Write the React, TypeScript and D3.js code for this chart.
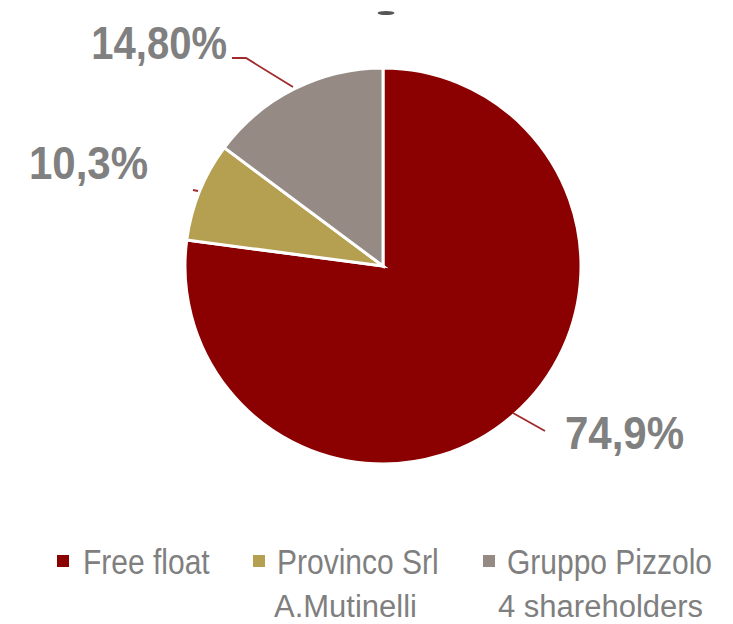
import React from "react";
import * as d3 from "d3";

const categories = ["Free float", "Provinco Srl", "Gruppo Pizzolo"];
const subLabels = ["", "A.Mutinelli", "4 shareholders"];
const sliceValues = [77.1, 8.1, 14.8];
const labelTexts = ["74,9%", "10,3%", "14,80%"];
const colors = ["#8B0000", "#B5A052", "#958A84"];

const W = 733;
const H = 624;
const cx = 383;
const cy = 266;
const R = 198;

export default function App() {
  const pie = d3.pie<number>().sort(null).value((d) => d);
  const arcs = pie(sliceValues);
  const arcGen = d3.arc<d3.PieArcDatum<number>>().innerRadius(0).outerRadius(R);

  const labelPos = [
    { x: 565, y: 449, anchor: "start", size: 42, line: [[513, 413], [545, 431]] },
    { x: 148, y: 179, anchor: "end", size: 42, line: [[193, 190], [198, 191]] },
    { x: 227, y: 59, anchor: "end", size: 40, line: [[232, 58], [246, 58], [293, 87]] },
  ];

  const legendX = [57, 253, 483];
  const legendTextX = [83, 277, 507];
  const subX = [0, 274, 498];

  return (
    <svg
      width={W}
      height={H}
      style={{ position: "absolute", left: 0, top: 0, background: "#fff" }}
      fontFamily="'Liberation Sans', Arial, sans-serif"
    >
      <ellipse cx={386} cy={13} rx={8.5} ry={2} fill="#555" />
      <g transform={`translate(${cx},${cy})`}>
        {arcs.map((a, i) => (
          <path key={i} d={arcGen(a) || ""} fill={colors[i]} stroke="#fff" strokeWidth={3} strokeLinejoin="miter" />
        ))}
      </g>
      {labelPos.map((p, i) => (
        <g key={i}>
          <polyline
            points={p.line.map((q) => q.join(",")).join(" ")}
            fill="none"
            stroke="#A02A2C"
            strokeWidth={1.8}
          />
          <text
            transform={`translate(${p.x},${p.y}) scale(1,${(46 / p.size).toFixed(3)})`}
            textAnchor={p.anchor}
            fontSize={p.size}
            fontWeight="bold"
            fill="#808080"
          >
            {labelTexts[i]}
          </text>
        </g>
      ))}
      {categories.map((c, i) => (
        <g key={c}>
          <rect x={legendX[i]} y={555} width={12} height={12} fill={colors[i]} />
          <text
            transform={`translate(${legendTextX[i]},574) scale(1,1.16)`}
            fontSize={30}
            fill="#7F7F7F"
          >
            {c}
          </text>
          {subLabels[i] && (
            <text x={subX[i]} y={617} fontSize={31} fill="#7F7F7F">
              {subLabels[i]}
            </text>
          )}
        </g>
      ))}
    </svg>
  );
}
